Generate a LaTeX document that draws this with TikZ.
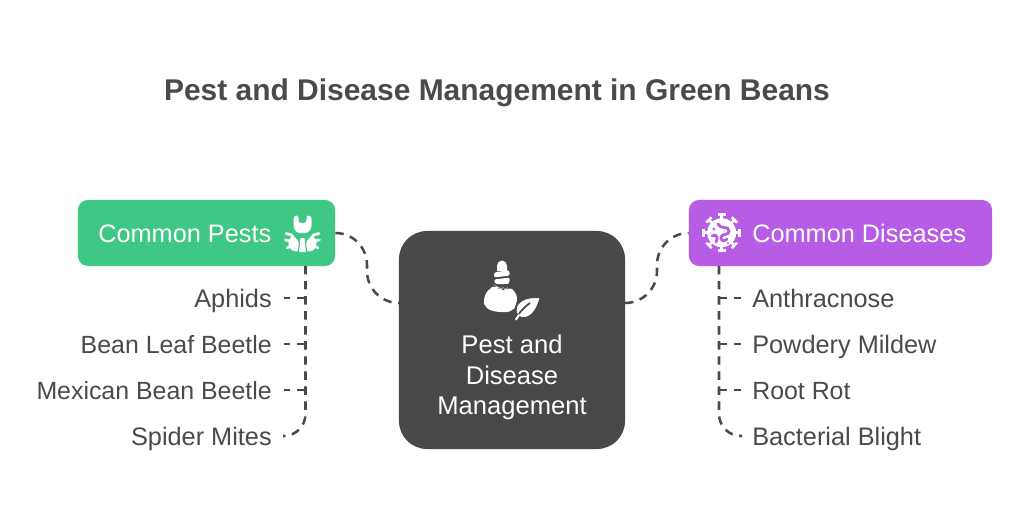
\documentclass[tikz,border=0pt]{standalone}
\usepackage{fontspec}
\setmainfont{Liberation Sans}
\usepackage{xcolor}
\usetikzlibrary{calc}
\definecolor{pestgreen}{HTML}{3FC785}
\definecolor{diseasepurple}{HTML}{B75CE4}
\definecolor{hubgray}{HTML}{484848}
\definecolor{inkgray}{HTML}{4A4A4A}
\tikzset{
    headbox/.style={rectangle,rounded corners=7pt,inner sep=0pt},
    headtext/.style={inner sep=0pt,text=white,font=\fontsize{18}{21}\selectfont},
    itemlabel/.style={inner sep=0pt,text=inkgray,font=\fontsize{18}{21}\selectfont},
    itemnarrow/.style={itemlabel,font=\fontsize{17.7}{21}\selectfont},
    conn/.style={draw=inkgray,line width=1.8pt,dash pattern=on 6pt off 4.7pt},
}

\begin{document}
\begin{tikzpicture}[x=0.025cm,y=-0.025cm]
    \useasboundingbox (0,0) rectangle (1024,512);

    % Title
    \node[inner sep=0pt,anchor=base,text=inkgray,font=\bfseries\fontsize{21.3}{26}\selectfont] (title) at (497,100) {Pest and Disease Management in Green Beans};

    % Boxes
    \node[headbox,fill=pestgreen,minimum width=6.425cm,minimum height=1.65cm] (pests) at (206.5,233) {};
    \node[headbox,fill=diseasepurple,minimum width=7.575cm,minimum height=1.65cm] (diseases) at (840.5,233) {};
    \node[rectangle,rounded corners=20pt,fill=hubgray,minimum width=5.65cm,minimum height=5.45cm] (hub) at (512,340) {};

    \node[headtext,anchor=base west] (pestslabel) at (98,242) {Common Pests};
    \node[headtext,anchor=base west] (diseaseslabel) at (752,242) {Common Diseases};
    \node[inner sep=0pt,anchor=base,text=white,font=\fontsize{18.2}{21}\selectfont] (hublabela) at (512,353) {Pest and};
    \node[inner sep=0pt,anchor=base,text=white,font=\fontsize{18.2}{21}\selectfont] (hublabelb) at (512,384) {Disease};
    \node[inner sep=0pt,anchor=base,text=white,font=\fontsize{18.2}{21}\selectfont] (hublabelc) at (512,414) {Management};

    % Left items
    \node[itemlabel,anchor=base east] (aphids) at (272,307) {Aphids};
    \node[itemnarrow,anchor=base east] (leafbeetle) at (272,353) {Bean Leaf Beetle};
    \node[itemnarrow,anchor=base east] (mexbeetle) at (272,399) {Mexican Bean Beetle};
    \node[itemlabel,anchor=base east] (mites) at (272,445) {Spider Mites};

    % Right items
    \node[itemlabel,anchor=base west] (anthrac) at (752,307) {Anthracnose};
    \node[itemlabel,anchor=base west] (mildew) at (752,353) {Powdery Mildew};
    \node[itemnarrow,anchor=base west] (rootrot) at (752,399) {Root Rot};
    \node[itemlabel,anchor=base west] (blight) at (752,445) {Bacterial Blight};

    % Helper points
    \coordinate (pestspine) at (305.5,266);
    \coordinate (diseasespine) at (719,266);
    \coordinate (pestsup) at (367,265);
    \coordinate (pestsdown) at (367,271);
    \coordinate (diseasesup) at (657,265);
    \coordinate (diseasesdown) at (657,271);
    \coordinate (hubleft) at (399,303);
    \coordinate (hubright) at (625,303);
    \coordinate (pestend) at (272,436);
    \coordinate (diseaseend) at (752,436);

    % Hub connectors
    \draw[conn] (pests.east) to[out=0,in=90] (pestsup) -- (pestsdown) to[out=-90,in=180] (hubleft);
    \draw[conn] (hubright) to[out=0,in=-90] (diseasesdown) -- (diseasesup) to[out=90,in=180] (diseases.west);

    % Spines
    \draw[conn] (pestspine) -- ($(pestspine |- pestend)+(0,-22)$) to[out=-90,in=0] ($(pestspine |- pestend)+(-22,0)$) -- ($(pestend)+(11,0)$);
    \draw[conn] (diseasespine) -- ($(diseasespine |- diseaseend)+(0,-22)$) to[out=-90,in=180] ($(diseasespine |- diseaseend)+(22,0)$) -- ($(diseaseend)+(-10,0)$);

    % Branches
    \foreach \lab/\yy in {aphids/298,leafbeetle/344,mexbeetle/390}
        \draw[conn,shorten >=8.5pt] (pestspine |- 0,\yy) -- (\lab.base east |- 0,\yy);
    \foreach \lab/\yy in {anthrac/298,mildew/344,rootrot/390}
        \draw[conn,shorten >=7.8pt] (diseasespine |- 0,\yy) -- (\lab.base west |- 0,\yy);

    % Beetle icon
    \fill[white,rounded corners=2pt] (293.5,216) -- (293.5,228) -- (297,233) -- (308,233) -- (311.5,228) -- (311.5,216) -- (306.5,215) -- (306.5,223) -- (298.5,223) -- (298.5,215) -- cycle;
    \fill[white] (300.5,238) -- (304.5,238) -- (306,252) -- (299,252) -- cycle;
    \fill[white,rounded corners=1pt] (292,234) -- (299,242) -- (297.5,252) -- (291,250) -- (288,244) -- cycle;
    \fill[white,rounded corners=1pt] (313,234) -- (306,242) -- (307.5,252) -- (314,250) -- (317,244) -- cycle;
    \draw[white,line width=1.9pt,line cap=round] (292,235) -- (286,233.5) (291,241) -- (285.5,240) (291,246) -- (287,248);
    \draw[white,line width=1.9pt,line cap=round] (313,235) -- (319,233.5) (314,241) -- (319.5,240) (314,246) -- (318,248);

    % Bottle and leaf icon
    \fill[white] (497,271) -- (497,266) arc[start angle=180,end angle=360,x radius=5,y radius=5.5] -- (507,271) -- cycle;
    \fill[white,rounded corners=1.5pt] (494,272.5) -- (509,270) -- (510,275.5) -- (494,277.5) -- cycle;
    \fill[white,rounded corners=1.5pt] (494,279.5) -- (510,277.5) -- (509,284) -- (495,284) -- cycle;
    \fill[white,rounded corners=4pt] (496,286) -- (489,288) -- (483,299) -- (485,308) -- (495,312) -- (512,312) -- (517,304) -- (517,293) -- (508,286) -- (506,292) -- (503,287) -- (501,292) -- (498,287) -- cycle;
    \filldraw[fill=white,draw=hubgray,line width=1.2pt] (540.5,297.5) .. controls (530,296) and (519,299) .. (516,307) .. controls (515,313) and (517,317) .. (522,318) .. controls (532,319) and (538,308) .. (540.5,297.5) -- cycle;
    \draw[hubgray,line width=1.2pt] (515,320) .. controls (519,313) and (523,308) .. (530,303);
    \draw[white,line width=1.4pt,line cap=round] (516,319.5) -- (519,315);

    % Virus icon
    \fill[white] (721.7,232.7) circle[radius=14.5];
    \foreach \ang in {0,45,...,315}
        \draw[white,line width=1.8pt] (721.7,232.7) ++(\ang:12) -- ++(\ang:6) ++(\ang+90:3.8) -- ++(\ang-90:7.6);
    \draw[diseasepurple,line width=2pt,line cap=round] (718,224) .. controls (720,230) and (729,225) .. (729,231) .. controls (729,236) and (722,233) .. (721,237) .. controls (720,241) and (725,242) .. (727,239);
    \draw[diseasepurple,line width=2pt,line cap=round] (712,236) .. controls (716,233) and (719,238) .. (716,242);
    \fill[diseasepurple] (714,229) circle[radius=1.6] (728,243) circle[radius=1.2];
\end{tikzpicture}
\end{document}
